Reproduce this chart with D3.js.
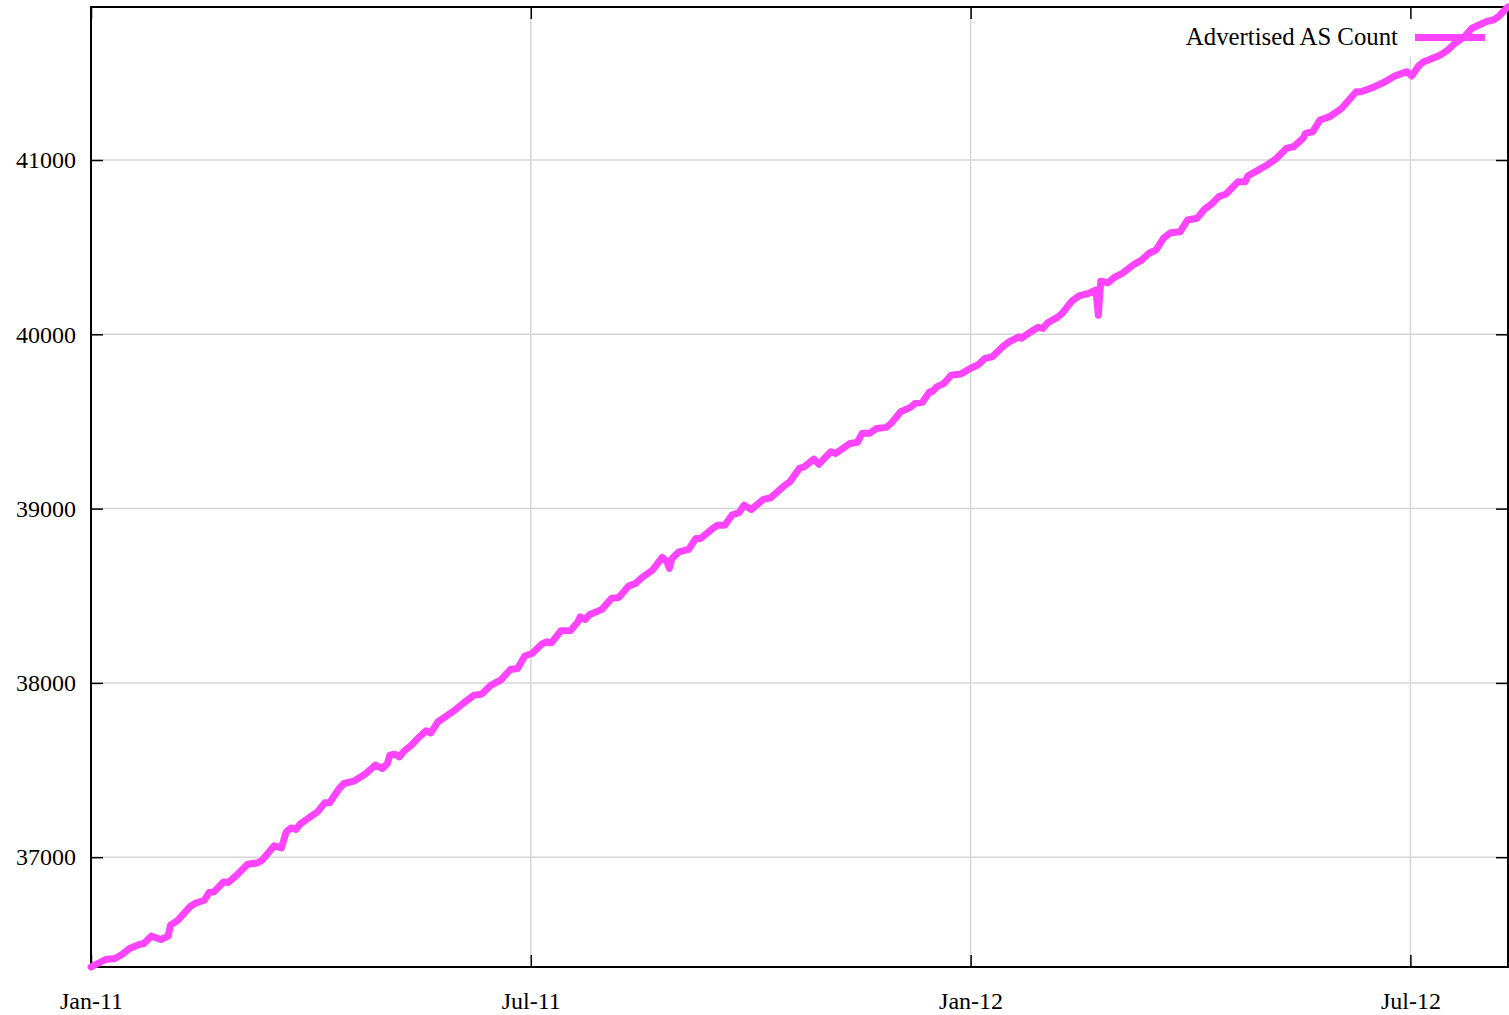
<!DOCTYPE html>
<html>
<head>
<meta charset="utf-8">
<script src="https://cdn.jsdelivr.net/npm/d3@7"></script>
<style>
  body { margin: 0; background: #fff; }
  text { font-family: "Liberation Serif", "Times New Roman", serif; }
</style>
</head>
<body>
<svg id="svg" width="1509" height="1015"></svg>
<script>
var seriesName = "Advertised AS Count";
var startDate = new Date(Date.UTC(2011, 0, 1));

// days since 1 Jan 2011
var days = [0,6,10,13,16,20,22,25,29,32,33,36,41,43,47,49,51,55,57,60,65,69,71,76,79,81,83,85,87,91,94,97,99,103,105,109,112,114,118,121,123,124,126,128,130,133,136,139,141,144,
  147,151,154,159,162,166,170,174,177,180,183,187,189,191,195,199,202,203,205,207,212,216,219,223,226,229,233,237,239,240,241,244,248,251,253,258,260,263,266,269,271,274,279,282,288,290,294,
  296,300,302,307,309,312,315,318,320,323,326,330,332,336,340,342,345,348,349,351,354,357,361,365,368,371,374,378,381,385,386,389,393,395,397,401,403,407,410,414,417,418,419,422,425,428,433,436,439,
  442,445,448,452,455,459,462,465,468,471,476,479,480,484,488,492,496,499,503,504,507,510,514,517,519,525,527,532,537,541,546,548,551,553,555,560,563,566,570,573,576,579,582,584,587,588];

var asCount = [36370,36413,36419,36443,36476,36499,36505,36547,36528,36547,36610,36638,36715,36734,36753,36797,36801,36858,36855,36891,36960,36967,36983,37065,37053,37145,37168,37159,37193,37231,37260,37312,37312,37394,37423,37436,37461,37480,37528,37509,37538,37585,37591,37576,37610,37643,37687,37725,37713,37777,
  37805,37844,37878,37930,37935,37987,38016,38077,38083,38154,38169,38222,38236,38230,38299,38300,38350,38379,38364,38393,38422,38485,38490,38555,38571,38609,38647,38720,38695,38657,38712,38752,38766,38829,38829,38886,38905,38905,38963,38978,39020,38995,39053,39062,39135,39154,39231,
  39240,39284,39255,39326,39317,39346,39374,39380,39432,39432,39460,39466,39489,39556,39581,39604,39610,39670,39670,39699,39719,39766,39772,39805,39824,39862,39871,39925,39957,39986,39977,40006,40040,40034,40066,40097,40120,40191,40220,40235,40254,40110,40305,40296,40330,40350,40403,40426,40465,
  40484,40551,40583,40589,40656,40666,40717,40748,40790,40805,40876,40876,40908,40939,40971,41010,41067,41076,41125,41153,41163,41230,41249,41277,41297,41392,41392,41417,41449,41482,41507,41482,41540,41564,41574,41603,41631,41670,41708,41756,41775,41794,41804,41823,41865,41878];

// gnuplot-style ticks, every half year (182.5 days)
var xTickDays = [0, 182.5, 365, 547.5];
var xTickLabels = ["Jan-11", "Jul-11", "Jan-12", "Jul-12"];
var yTicks = [37000, 38000, 39000, 40000, 41000];

var plotLeft = 91, plotRight = 1508, plotTop = 7, plotBottom = 967;
var lineColor = "#ff44ff";
var gridColor = "#d6d6d6";

var toDate = d => new Date(startDate.getTime() + d * 864e5);
var data = days.map((d, i) => ({date: toDate(d), value: asCount[i]}));
var xTicks = xTickDays.map(toDate);

var x = d3.scaleUtc().domain(d3.extent(data, d => d.date)).range([plotLeft, plotRight]);
var y = d3.scaleLinear().domain(d3.extent(data, d => d.value)).range([plotBottom, plotTop]);

var svg = d3.select("#svg");

// grid
svg.append("g").selectAll("line").data(yTicks).enter().append("line")
    .attr("x1", plotLeft).attr("x2", plotRight)
    .attr("y1", d => y(d)).attr("y2", d => y(d))
    .attr("stroke", gridColor).attr("stroke-width", 1.5);
svg.append("g").selectAll("line").data(xTicks).enter().append("line")
    .attr("x1", d => x(d)).attr("x2", d => x(d))
    .attr("y1", plotTop).attr("y2", plotBottom)
    .attr("stroke", gridColor).attr("stroke-width", 1.5);

// opaque key box
svg.append("rect")
    .attr("x", 1170).attr("y", plotTop + 1)
    .attr("width", 330).attr("height", 49)
    .attr("fill", "#fff");

// axes (ticks inward, mirrored)
function styleAxis(g) {
  g.select(".domain").remove();
  g.selectAll(".tick line").attr("stroke", "#000").attr("stroke-width", 1.5);
  g.selectAll(".tick text").attr("fill", "#000")
      .style("font-family", "'Liberation Serif', 'Times New Roman', serif")
      .style("font-size", "24px");
}

svg.append("g").attr("transform", "translate(" + plotLeft + ",0)")
    .call(d3.axisLeft(y).tickValues(yTicks).tickFormat(d3.format("d")).tickSize(-12).tickPadding(15))
    .call(styleAxis);
svg.append("g").attr("transform", "translate(" + plotRight + ",0)")
    .call(d3.axisRight(y).tickValues(yTicks).tickFormat("").tickSize(-12))
    .call(styleAxis);
svg.append("g").attr("transform", "translate(0," + plotBottom + ")")
    .call(d3.axisBottom(x).tickValues(xTicks).tickFormat((d, i) => xTickLabels[i]).tickSize(-12).tickPadding(25))
    .call(styleAxis);
svg.append("g").attr("transform", "translate(0," + plotTop + ")")
    .call(d3.axisTop(x).tickValues(xTicks).tickFormat("").tickSize(-12))
    .call(styleAxis);

// border
svg.append("rect")
    .attr("x", plotLeft).attr("y", plotTop)
    .attr("width", plotRight - plotLeft).attr("height", plotBottom - plotTop)
    .attr("fill", "none").attr("stroke", "#000").attr("stroke-width", 2);

// series
var line = d3.line().x(d => x(d.date)).y(d => y(d.value));
svg.append("path")
    .datum(data)
    .attr("d", line)
    .attr("fill", "none")
    .attr("stroke", lineColor)
    .attr("stroke-width", 7)
    .attr("stroke-linejoin", "round")
    .attr("stroke-linecap", "round");

// key
var key = svg.append("g");
key.append("text")
    .attr("x", 1398).attr("y", 36)
    .attr("text-anchor", "end")
    .attr("dominant-baseline", "central")
    .style("font-size", "24.8px")
    .text(seriesName);
key.append("line")
    .attr("x1", 1415).attr("x2", 1485)
    .attr("y1", 37.5).attr("y2", 37.5)
    .attr("stroke", lineColor).attr("stroke-width", 7);
</script>
</body>
</html>
